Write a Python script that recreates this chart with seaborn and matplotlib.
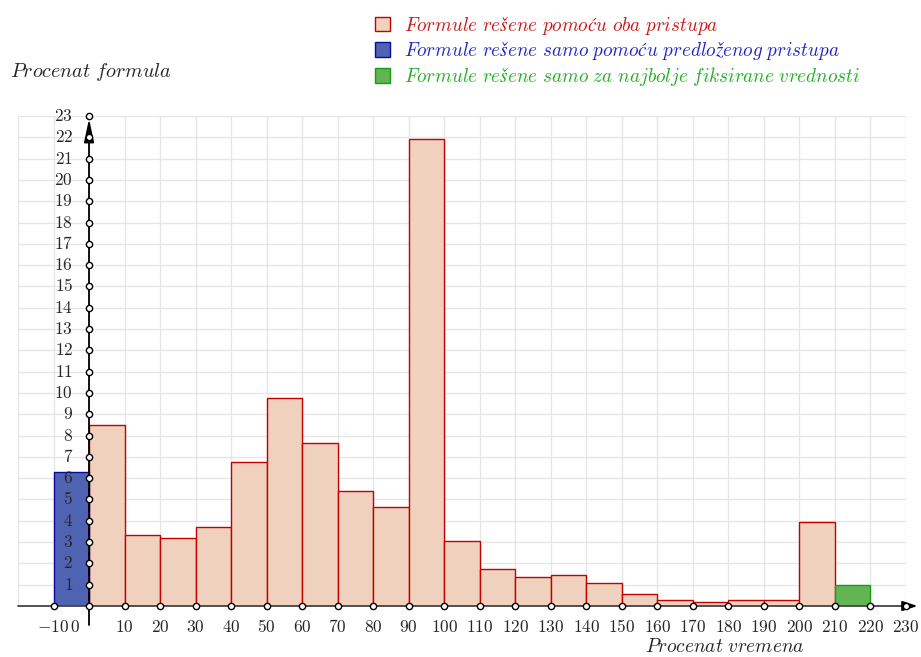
import matplotlib
matplotlib.use("Agg")
import matplotlib.pyplot as plt
from matplotlib.patches import Patch
import numpy as np
import pandas as pd
import seaborn as sns

# Left edge of each 10%-wide bin (procenat vremena) and bar heights (procenat formula)
bin_starts = [-10, 0, 10, 20, 30, 40, 50, 60, 70, 80, 90, 100, 110,
              120, 130, 140, 150, 160, 170, 180, 190, 200, 210]
heights = [6.3, 8.5, 3.35, 3.2, 3.7, 6.75, 9.75, 7.65, 5.4, 4.65, 21.9, 3.05, 1.75,
           1.35, 1.45, 1.1, 0.55, 0.3, 0.2, 0.3, 0.3, 3.95, 1.0]
groups = ["predlozeni"] + ["oba"] * 21 + ["fiksirane"]

group_order = ["oba", "predlozeni", "fiksirane"]
legend_labels = [
    "Formule rešene pomoću oba pristupa",
    "Formule rešene samo pomoću predloženog pristupa",
    "Formule rešene samo za najbolje fiksirane vrednosti",
]
face_colors = {"oba": "#f0d1be", "predlozeni": "#5063b2", "fiksirane": "#63b553"}
edge_colors = {"oba": "#c40000", "predlozeni": "#0a0aa0", "fiksirane": "#14a014"}
text_colors = ["#c41a1a", "#2424c8", "#22b022"]

x_ticks = [-10, 0, 10, 20, 30, 40, 50, 60, 70, 80, 90, 100, 110, 120, 130,
           140, 150, 160, 170, 180, 190, 200, 210, 220, 230]
y_ticks = list(range(1, 24))

sns.set_style("white")
plt.rcParams["mathtext.fontset"] = "cm"


def m(s):
    # LaTeX-like math italic text
    return "$" + s.replace(" ", r"\ ") + "$"


df = pd.DataFrame({"center": [b + 5 for b in bin_starts],
                   "height": heights, "group": groups})

fig = plt.figure(figsize=(9.21, 6.57), dpi=100)
ax = fig.add_axes([18 / 921, 51 / 657, 888 / 921, 490 / 657])

sns.barplot(data=df, x="center", y="height", hue="group", hue_order=group_order,
            palette=face_colors, native_scale=True, width=1, dodge=False,
            saturation=1, errorbar=None, legend=False, ax=ax, zorder=2)
for cont, g in zip(ax.containers, group_order):
    for p in cont:
        p.set_edgecolor(edge_colors[g])
        p.set_linewidth(1.0)

ax.set_xlim(-20, 230)
ax.set_ylim(0, 23)
ax.set_xticks(np.arange(-20, 231, 10))
ax.set_yticks(np.arange(0, 24, 1))
ax.tick_params(length=0, labelbottom=False, labelleft=False)
ax.grid(True, color="#e6e6e6", lw=1)
ax.set_axisbelow(True)
for s in ax.spines.values():
    s.set_visible(False)
ax.set_xlabel("")
ax.set_ylabel("")

# axes through the origin
ax.plot([-20, 231], [0, 0], color="#444444", lw=1.3, clip_on=False, zorder=4)
ax.plot([0, 0], [-0.9, 22.3], color="black", lw=1.3, clip_on=False, zorder=4)
ax.annotate("", xy=(0, 23), xytext=(0, 21.9),
            arrowprops=dict(arrowstyle="-|>,head_length=1.4,head_width=0.3",
                            color="black", lw=1.3, mutation_scale=10),
            annotation_clip=False, zorder=4)
ax.annotate("", xy=(234, 0), xytext=(229, 0),
            arrowprops=dict(arrowstyle="-|>,head_length=0.9,head_width=0.3",
                            color="black", lw=1.3, mutation_scale=10),
            annotation_clip=False, zorder=4)

ax.plot(x_ticks, [0] * len(x_ticks), "o", ms=4.5, mfc="white", mec="black",
        mew=1, clip_on=False, zorder=5)
ax.plot([0] * len(y_ticks), y_ticks, "o", ms=4.5, mfc="white", mec="black",
        mew=1, clip_on=False, zorder=5)

for t in x_ticks:
    if t == 0:
        ax.text(-4.0, -1.0, m("0"), ha="center", va="center", fontsize=12.5)
    else:
        ax.text(t, -1.0, m(str(t)), ha="center", va="center", fontsize=12.5)
for t in y_ticks:
    ax.text(-4.5, t, m(str(t)), ha="right", va="center", fontsize=12.5, zorder=6)

fig.text(10 / 921, 1 - 72 / 657, m("Procenat formula"), ha="left", va="center",
         fontsize=14.5)
fig.text(645 / 921, 1 - 647 / 657, m("Procenat vremena"), ha="left", va="center",
         fontsize=14)

handles = [Patch(facecolor=face_colors[g], edgecolor=edge_colors[g], lw=1)
           for g in group_order]
fig.legend(handles, [m(s) for s in legend_labels], loc="upper left",
           bbox_to_anchor=(367 / 921, 1 - 7 / 657), frameon=False, fontsize=13.8,
           handlelength=0.8, handleheight=0.8, handletextpad=0.75,
           labelspacing=0.17, labelcolor=text_colors, borderaxespad=0)

fig.savefig("out.png", dpi=100)
